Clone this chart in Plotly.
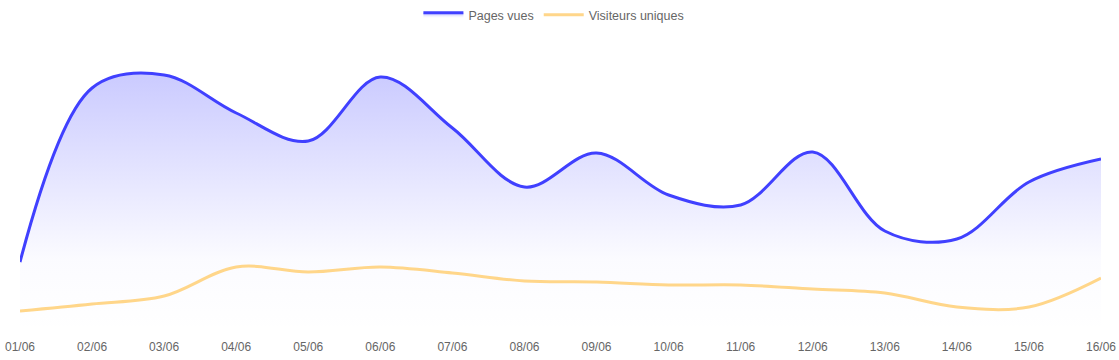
import plotly.graph_objects as go

dates = ["01/06", "02/06", "03/06", "04/06", "05/06", "06/06", "07/06", "08/06",
         "09/06", "10/06", "11/06", "12/06", "13/06", "14/06", "15/06", "16/06"]
pages_vues = [355, 1225, 1290, 1100, 960, 1280, 1025, 730, 900, 690, 640, 905, 510, 470, 755, 870]
visiteurs_uniques = [110, 145, 185, 330, 305, 330, 300, 260, 255, 240, 240, 220, 200, 130, 130, 275]

y_max = 1465
x_idx = list(range(len(dates)))

fig = go.Figure()
fig.add_trace(go.Scatter(
    x=x_idx, y=pages_vues, name="Pages vues", mode="lines",
    line=dict(color="#4040ff", width=3, shape="spline", smoothing=1.0),
    fill="tozeroy",
    fillgradient=dict(type="vertical", start=0, stop=y_max,
                      colorscale=[[0, "rgba(63,63,255,0)"], [0.25, "rgba(63,63,255,0.02)"],
                                  [1, "rgba(63,63,255,0.32)"]]),
))
fig.add_trace(go.Scatter(
    x=x_idx, y=visiteurs_uniques, name="Visiteurs uniques", mode="lines",
    line=dict(color="#ffd68a", width=3, shape="spline", smoothing=1.0),
))

fig.update_layout(
    width=1119, height=360,
    margin=dict(l=20, r=18, t=40, b=27, autoexpand=False),
    paper_bgcolor="white", plot_bgcolor="white",
    font=dict(family="Liberation Sans, Arial, sans-serif", size=12, color="#666666"),
    showlegend=True,
    legend=dict(orientation="h", x=0.495, xanchor="center", xref="container",
                y=1.0, yanchor="top", yref="container", itemwidth=40,
                font=dict(size=12.5, color="#666666")),
    xaxis=dict(range=[0, len(dates) - 1], tickvals=x_idx, ticktext=dates,
               showgrid=False, zeroline=False, showline=False,
               ticks="outside", ticklen=3, tickcolor="rgba(0,0,0,0)",
               automargin=False, tickfont=dict(size=12, color="#666666")),
    yaxis=dict(range=[0, y_max], visible=False, showgrid=False, zeroline=False,
               automargin=False),
)

fig.write_html("out.html", config={"displayModeBar": False},
               post_script="document.body.style.margin='0';document.body.style.overflow='hidden';")
